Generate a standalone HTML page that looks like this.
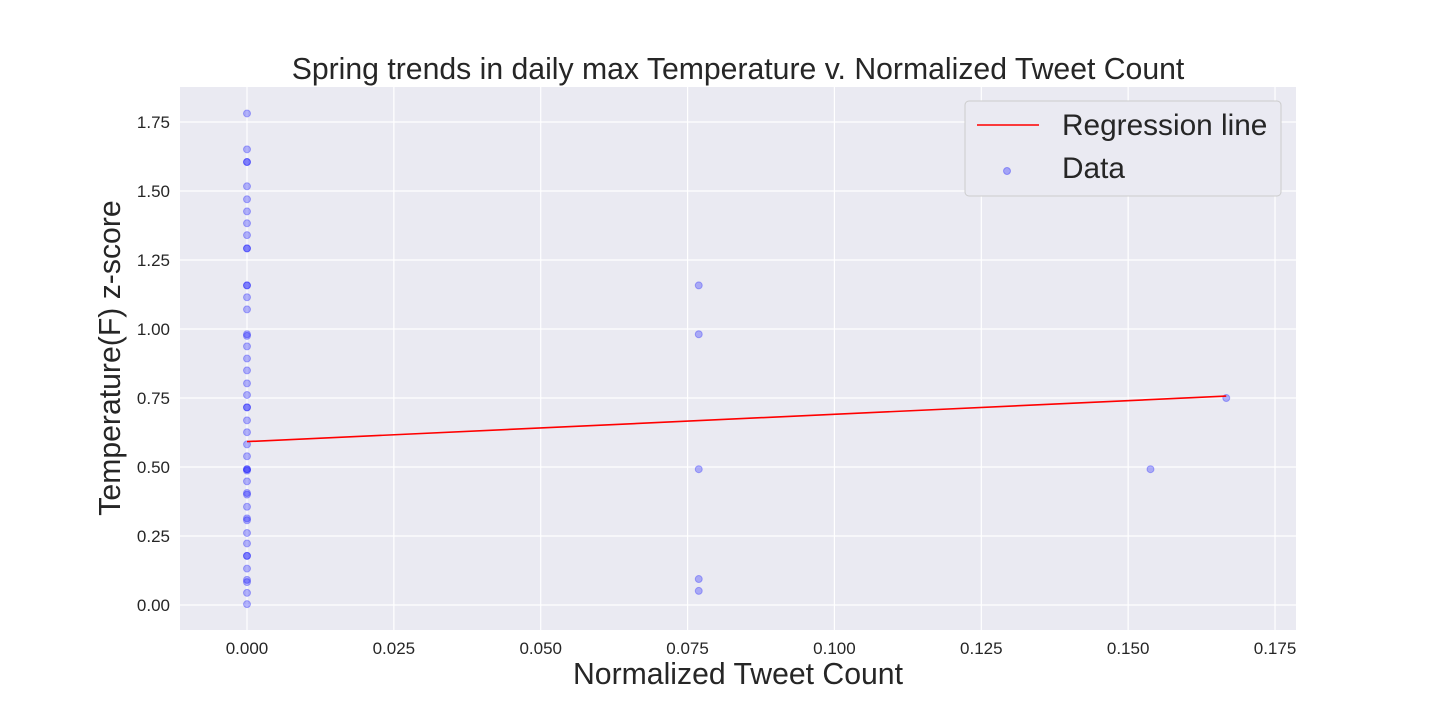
<!DOCTYPE html>
<html><head><meta charset="utf-8"><style>
body{margin:0;background:#fff;font-family:"Liberation Sans",Arial,sans-serif}
</style></head><body>
<svg id="chart" width="1440" height="720" xmlns="http://www.w3.org/2000/svg" font-family="Liberation Sans, Arial, sans-serif">
<rect x="180" y="87" width="1116" height="543" fill="#eaeaf2"/>
<g id="grid"></g>
<g id="xticks"></g>
<g id="yticks"></g>
<g id="points"></g>
<line id="reg" stroke="#ff0000" stroke-width="1.6"/>
<text x="738" y="79" font-size="30.2" text-anchor="middle" fill="#262626">Spring trends in daily max Temperature v. Normalized Tweet Count</text>
<text x="738" y="684" font-size="30.2" text-anchor="middle" fill="#262626">Normalized Tweet Count</text>
<text transform="translate(120,358) rotate(-90)" font-size="30.2" text-anchor="middle" fill="#262626">Temperature(F) z-score</text>
<g>
<rect x="965" y="101" width="316" height="95" rx="4" fill="#eaeaf2" stroke="#cccccc" stroke-width="1"/>
<line x1="977" y1="125" x2="1039" y2="125" stroke="#ff0000" stroke-width="1.6"/>
<text x="1062" y="135" font-size="29.8" fill="#262626">Regression line</text>
<circle cx="1007" cy="171" r="3.5" fill="rgba(0,0,255,0.3)" stroke="rgba(0,0,255,0.3)"/>
<text x="1062" y="178" font-size="29.8" fill="#262626">Data</text>
</g>
</svg>
<script>
const xTicks=[0,0.025,0.05,0.075,0.1,0.125,0.15,0.175];
const yTicks=[0,0.25,0.5,0.75,1,1.25,1.5,1.75];
const dataX0=[0,0,0,0,0,0,0,0,0,0,0,0,0,0,0,0,0,0,0,0,0,0,0,0,0,0,0,0,0,0,0,0,0,0,0,0,0,0,0,0,0,0,0,0,0,0];
const dataY0=[1.781,1.651,1.605,1.605,1.517,1.470,1.426,1.383,1.340,1.292,1.292,1.158,1.158,1.115,1.071,0.981,0.975,0.937,0.893,0.850,0.803,0.761,0.716,0.716,0.669,0.626,0.582,0.539,0.492,0.492,0.487,0.448,0.406,0.400,0.356,0.314,0.307,0.261,0.223,0.178,0.178,0.132,0.091,0.083,0.044,0.003];
const dataX1=[0.0769,0.0769,0.0769,0.0769,0.0769,0.1538,0.1667];
const dataY1=[1.158,0.981,0.492,0.094,0.051,0.492,0.75];
const regX=[0,0.1667];
const regY=[0.592,0.757];
const xs=v=>247+v/0.025*146.86;
const ys=v=>605-v*276;
const NS="http://www.w3.org/2000/svg";
const mk=(p,t,a)=>{const e=document.createElementNS(NS,t);for(const k in a)e.setAttribute(k,a[k]);p.appendChild(e);return e;};
const grid=document.getElementById('grid'),xt=document.getElementById('xticks'),yt=document.getElementById('yticks'),pts=document.getElementById('points');
xTicks.forEach(v=>{
 const l=mk(grid,'line',{x1:xs(v),x2:xs(v),y1:87,y2:630,stroke:'#fff','stroke-width':1.2});
 
 
 const t=mk(xt,'text',{x:xs(v),y:654,'font-size':17,'text-anchor':'middle',fill:'#262626'});
 t.textContent=v.toFixed(3);
 
 
});
yTicks.forEach(v=>{
 const l=mk(grid,'line',{x1:180,x2:1296,y1:ys(v),y2:ys(v),stroke:'#fff','stroke-width':1.2});
 
 
 const t=mk(yt,'text',{x:170,y:ys(v)+6,'font-size':17,'text-anchor':'end',fill:'#262626'});
 t.textContent=v.toFixed(2);
 
 
});
const drawPts=(X,Y)=>X.forEach((x,i)=>{
 const c=mk(pts,'circle',{cx:xs(x),cy:ys(Y[i]),r:3.5,fill:'rgba(0,0,255,0.28)',stroke:'rgba(0,0,255,0.28)','stroke-width':1});
 
 
});
drawPts(dataX0,dataY0);drawPts(dataX1,dataY1);
const r=document.getElementById('reg');
r.setAttribute('x1',xs(regX[0]));r.setAttribute('y1',ys(regY[0]));
r.setAttribute('x2',xs(regX[1]));r.setAttribute('y2',ys(regY[1]));
</script>
</body></html>
